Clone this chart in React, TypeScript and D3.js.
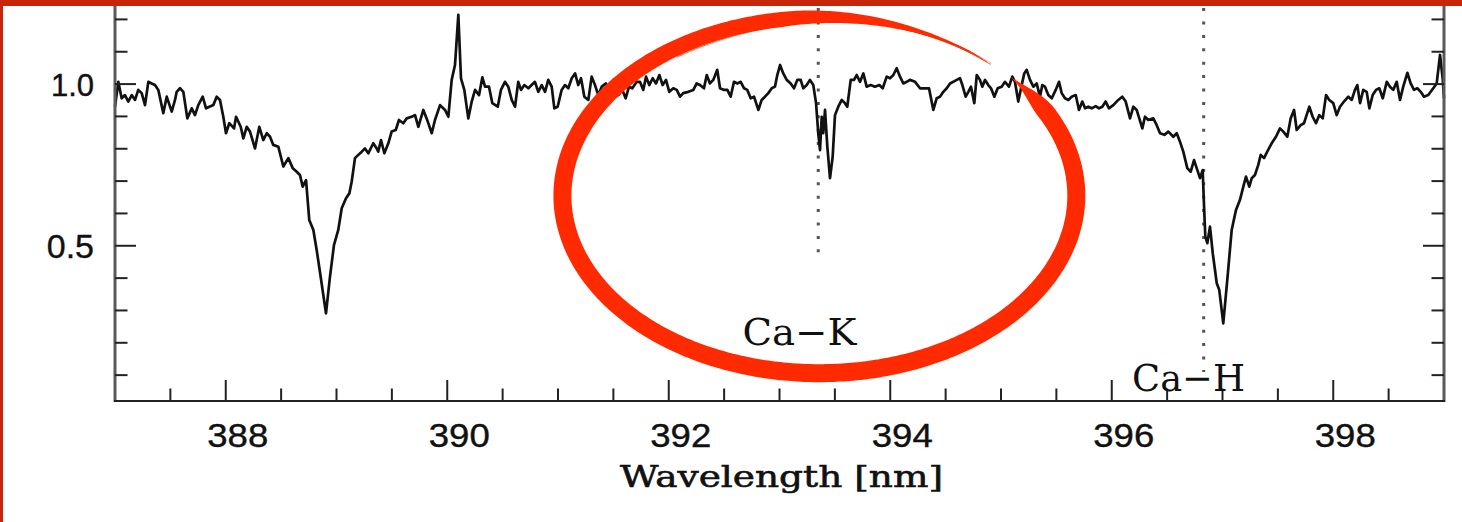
import React from "react";
import * as d3 from "d3";

// Normalised spectrum around the Ca II H & K lines
const wavelengthNm: number[] = [
  387.000, 387.030, 387.060, 387.090, 387.120, 387.151, 387.181, 387.210, 387.241, 387.271,
  387.301, 387.331, 387.361, 387.391, 387.436, 387.467, 387.512, 387.542, 387.557, 387.587,
  387.617, 387.653, 387.693, 387.722, 387.752, 387.792, 387.822, 387.852, 387.888, 387.918,
  387.948, 387.978, 388.002, 388.032, 388.075, 388.093, 388.135, 388.159, 388.189, 388.219,
  388.264, 388.303, 388.339, 388.370, 388.400, 388.429, 388.475, 388.520, 388.565, 388.605,
  388.641, 388.670, 388.695, 388.725, 388.754, 388.791, 388.821, 388.857, 388.905, 388.941,
  388.977, 389.016, 389.047, 389.086, 389.116, 389.137, 389.167, 389.197, 389.228, 389.257,
  389.287, 389.332, 389.363, 389.377, 389.402, 389.432, 389.468, 389.498, 389.535, 389.564,
  389.603, 389.634, 389.679, 389.709, 389.739, 389.784, 389.824, 389.860, 389.889, 389.935,
  389.980, 390.010, 390.040, 390.070, 390.100, 390.124, 390.154, 390.190, 390.221, 390.251,
  390.287, 390.317, 390.341, 390.377, 390.407, 390.456, 390.485, 390.521, 390.551, 390.582,
  390.612, 390.641, 390.666, 390.696, 390.732, 390.762, 390.792, 390.822, 390.853, 390.883,
  390.912, 390.943, 390.967, 390.997, 391.033, 391.063, 391.093, 391.124, 391.154, 391.183,
  391.208, 391.238, 391.274, 391.304, 391.334, 391.364, 391.395, 391.431, 391.470, 391.499,
  391.545, 391.581, 391.611, 391.641, 391.671, 391.711, 391.740, 391.770, 391.795, 391.824,
  391.855, 391.885, 391.915, 391.945, 391.975, 392.005, 392.041, 392.072, 392.102, 392.131,
  392.177, 392.222, 392.252, 392.282, 392.318, 392.343, 392.372, 392.402, 392.438, 392.463,
  392.499, 392.529, 392.559, 392.589, 392.619, 392.650, 392.680, 392.709, 392.740, 392.770,
  392.809, 392.839, 392.869, 392.899, 392.930, 392.959, 392.980, 393.005, 393.034, 393.065,
  393.101, 393.131, 393.161, 393.191, 393.215, 393.246, 393.275, 393.305, 393.330, 393.350,
  393.366, 393.381, 393.395, 393.411, 393.432, 393.456, 393.480, 393.501, 393.531, 393.562,
  393.591, 393.612, 393.643, 393.673, 393.697, 393.727, 393.757, 393.787, 393.823, 393.862,
  393.901, 393.932, 393.968, 393.998, 394.028, 394.058, 394.088, 394.118, 394.149, 394.178,
  394.224, 394.269, 394.314, 394.350, 394.389, 394.419, 394.449, 394.479, 394.510, 394.540,
  394.569, 394.600, 394.630, 394.651, 394.681, 394.705, 394.729, 394.759, 394.781, 394.810,
  394.831, 394.856, 394.885, 394.910, 394.940, 394.970, 395.006, 395.036, 395.072, 395.102,
  395.126, 395.156, 395.181, 395.210, 395.232, 395.262, 395.292, 395.322, 395.352, 395.373,
  395.397, 395.427, 395.458, 395.494, 395.524, 395.548, 395.578, 395.608, 395.638, 395.675,
  395.704, 395.734, 395.759, 395.788, 395.819, 395.855, 395.885, 395.915, 395.945, 395.975,
  396.014, 396.059, 396.095, 396.126, 396.165, 396.195, 396.225, 396.276, 396.300, 396.330,
  396.375, 396.406, 396.436, 396.475, 396.511, 396.556, 396.587, 396.616, 396.646, 396.682,
  396.713, 396.743, 396.767, 396.797, 396.821, 396.836, 396.845, 396.863, 396.887, 396.912,
  396.948, 396.971, 397.007, 397.043, 397.083, 397.122, 397.158, 397.188, 397.212, 397.242,
  397.264, 397.293, 397.323, 397.345, 397.375, 397.404, 397.444, 397.483, 397.519, 397.549,
  397.585, 397.616, 397.646, 397.670, 397.706, 397.736, 397.784, 397.814, 397.844, 397.874,
  397.905, 397.935, 397.964, 398.000, 398.031, 398.061, 398.097, 398.136, 398.167, 398.196,
  398.217, 398.242, 398.271, 398.302, 398.326, 398.356, 398.386, 398.416, 398.447, 398.483,
  398.512, 398.542, 398.573, 398.603, 398.632, 398.669, 398.699, 398.729, 398.759, 398.790,
  398.819, 398.858, 398.903, 398.934, 398.964, 398.988, 399.000,
];

const normFlux: number[] = [
  0.930, 1.007, 0.956, 0.966, 0.946, 0.966, 0.951, 0.982, 0.972, 0.935,
  1.007, 1.002, 0.997, 0.982, 0.910, 0.961, 0.915, 0.951, 0.976, 0.987,
  0.976, 0.894, 0.925, 0.904, 0.935, 0.961, 0.925, 0.930, 0.935, 0.961,
  0.951, 0.899, 0.848, 0.879, 0.863, 0.899, 0.868, 0.832, 0.868, 0.853,
  0.801, 0.868, 0.827, 0.848, 0.837, 0.812, 0.806, 0.745, 0.771, 0.740,
  0.729, 0.719, 0.683, 0.703, 0.580, 0.549, 0.487, 0.404, 0.291, 0.404,
  0.502, 0.549, 0.616, 0.647, 0.662, 0.698, 0.771, 0.781, 0.791, 0.801,
  0.786, 0.817, 0.801, 0.791, 0.827, 0.786, 0.817, 0.853, 0.858, 0.889,
  0.879, 0.894, 0.899, 0.904, 0.868, 0.920, 0.884, 0.848, 0.889, 0.935,
  0.920, 0.899, 1.013, 1.059, 1.214, 1.018, 0.982, 0.894, 0.946, 0.982,
  0.966, 1.021, 0.992, 0.992, 0.941, 0.930, 0.982, 1.007, 0.992, 0.951,
  0.930, 1.007, 0.982, 0.997, 0.987, 0.997, 1.007, 0.976, 0.997, 0.976,
  1.013, 0.992, 0.925, 0.930, 0.982, 0.997, 0.987, 1.018, 1.033, 0.997,
  1.018, 0.961, 0.951, 1.023, 0.997, 0.966, 0.992, 1.002, 0.982, 1.013,
  0.966, 0.982, 0.956, 0.992, 0.987, 1.007, 1.007, 0.982, 1.023, 0.997,
  1.018, 1.002, 1.028, 0.997, 1.013, 0.976, 0.987, 0.982, 0.961, 0.972,
  0.976, 0.982, 1.002, 0.997, 0.987, 1.028, 1.002, 1.013, 1.044, 0.987,
  0.982, 0.982, 0.961, 1.007, 1.002, 1.007, 0.987, 0.982, 0.956, 0.961,
  0.920, 0.951, 0.961, 0.972, 0.987, 0.992, 1.028, 1.059, 1.033, 1.013,
  1.002, 0.987, 1.013, 1.013, 0.987, 0.997, 1.013, 0.997, 0.941, 0.848,
  0.796, 0.899, 0.848, 0.920, 0.806, 0.709, 0.775, 0.904, 0.930, 0.951,
  0.941, 0.930, 1.013, 1.013, 1.028, 1.007, 1.033, 0.992, 0.997, 0.992,
  0.997, 0.987, 1.023, 1.018, 1.028, 1.049, 1.023, 1.002, 1.007, 1.013,
  1.007, 0.987, 0.987, 0.987, 0.920, 0.956, 0.961, 0.976, 0.987, 1.002,
  1.007, 1.013, 1.018, 0.997, 0.961, 0.976, 0.992, 0.941, 1.028, 1.013,
  0.992, 1.013, 0.997, 0.987, 0.961, 0.987, 0.992, 1.007, 0.992, 1.023,
  1.007, 0.946, 0.987, 1.033, 1.044, 1.013, 0.992, 1.002, 0.961, 0.997,
  0.992, 0.966, 0.956, 0.982, 1.007, 0.972, 0.956, 0.951, 0.961, 0.966,
  0.920, 0.946, 0.925, 0.930, 0.925, 0.932, 0.925, 0.930, 0.946, 0.925,
  0.935, 0.951, 0.961, 0.946, 0.894, 0.930, 0.920, 0.863, 0.899, 0.889,
  0.894, 0.873, 0.848, 0.843, 0.853, 0.837, 0.848, 0.822, 0.791, 0.740,
  0.729, 0.765, 0.740, 0.709, 0.734, 0.600, 0.528, 0.508, 0.559, 0.477,
  0.384, 0.363, 0.260, 0.394, 0.549, 0.611, 0.642, 0.683, 0.714, 0.683,
  0.709, 0.719, 0.750, 0.781, 0.771, 0.791, 0.817, 0.837, 0.863, 0.853,
  0.837, 0.894, 0.920, 0.858, 0.873, 0.879, 0.930, 0.899, 0.879, 0.904,
  0.894, 0.966, 0.951, 0.941, 0.904, 0.930, 0.946, 0.961, 0.951, 0.982,
  0.997, 0.941, 0.982, 0.976, 0.925, 0.966, 0.982, 0.987, 0.956, 1.007,
  0.992, 0.982, 1.007, 0.951, 0.992, 1.035, 1.002, 0.982, 0.987, 0.976,
  0.961, 0.966, 0.987, 1.002, 1.090, 1.018, 0.956,
];

// Axis ticks
const xMajorTicks = [388, 390, 392, 394, 396, 398];
const xMinorTicks = [387.5, 388.5, 389, 389.5, 390.5, 391, 391.5, 392.5, 393, 393.5, 394.5, 395, 395.5, 396.5, 397, 397.5, 398.5];
const yLabelTicks = [0.5, 1.0];
const yMinorTicks = [0.1, 0.2, 0.3, 0.4, 0.6, 0.7, 0.8, 0.9, 1.1, 1.2];

// Rest wavelengths of the Ca II lines (nm) and their labels
const caLineNm = [393.35, 396.83];
const caLineLabels = ["Ca\u2212K", "Ca\u2212H"];

const W = 1462;
const H = 522;
const RED = "#ff2a00";
const FRAME = "#c8260a";

const deg = Math.PI / 180;

function lerp(a: number, b: number, t: number) {
  return a + (b - a) * Math.max(0, Math.min(1, t));
}
function ease(t: number) {
  const c = Math.max(0, Math.min(1, t));
  return c * c * (3 - 2 * c);
}

export default function App() {
  const x = d3.scaleLinear().domain([387, 399]).range([115, 1444]);
  const y = d3.scaleLinear().domain([0.02, 1.26]).range([401, 0]);

  const pts: [number, number][] = wavelengthNm.map((w, i) => [w, normFlux[i]]);
  const spectrumPath = d3
    .line<[number, number]>()
    .x((d) => x(d[0]))
    .y((d) => y(d[1]))(pts) as string;

  const left = x.range()[0];
  const right = x.range()[1];
  const bottom = y.range()[0];

  // Hand-drawn circle around the Ca-K line
  const cx = x(393.36);
  const cy = y(0.655);
  const rx = x(393.36 + 2.32) - cx;
  const ry = cy - y(0.655 + 0.549);
  const a0 = -43 * deg;
  const a1 = 312 * deg;
  const n = 500;
  const outerPts: [number, number][] = [];
  const innerPts: [number, number][] = [];
  for (let i = 0; i <= n; i++) {
    const t = a0 + ((a1 - a0) * i) / n;
    const td = t / deg;
    let o: number;
    let q: number;
    if (td < -28) {
      const e = ease((td + 43) / 15);
      o = 9 * e;
      q = -9 * e;
    } else if (td < 200) {
      o = 9;
      q = -9;
    } else if (td < 262) {
      o = lerp(9, 8, (td - 200) / 62);
      q = lerp(-9, -7, (td - 200) / 62);
    } else {
      const s = (td - 262) / 50;
      o = lerp(8, 0.3, ease(s));
      q = lerp(-7, 0, Math.pow(Math.min(1, s * 1.15), 0.8));
    }
    outerPts.push([cx + (rx + o) * Math.cos(t), cy + (ry + o) * Math.sin(t)]);
    innerPts.push([cx + (rx + q) * Math.cos(t), cy + (ry + q) * Math.sin(t)]);
  }
  const brush = (d3.line()([...outerPts, ...innerPts.reverse()]) as string) + "Z";

  const hairs: string[] = [];
  for (let k = 0; k < 6; k++) {
    const s0 = 235 * deg;
    const s1 = (306 + k * 1.2) * deg;
    const off0 = -8.5 + k * 1.3;
    const hp: [number, number][] = [];
    for (let i = 0; i <= 80; i++) {
      const u = i / 80;
      const t = s0 + (s1 - s0) * u;
      const off = lerp(off0, 0.5 - k * 0.3, ease(u));
      hp.push([cx + (rx + off) * Math.cos(t), cy + (ry + off) * Math.sin(t)]);
    }
    hairs.push(d3.line()(hp) as string);
  }

  const tickFont = "'Liberation Sans', Arial, Helvetica, sans-serif";
  const serifFont = "'DejaVu Serif', 'Liberation Serif', serif";

  return (
    <svg
      width={W}
      height={H}
      viewBox={`0 0 ${W} ${H}`}
      style={{ position: "absolute", left: 0, top: 0, background: "#fff" }}
    >
      <rect x={0} y={0} width={W} height={H} fill="#fff" />

      {/* Ca II rest positions */}
      {caLineNm.map((w, i) => (
        <line
          key={`ca-${i}`}
          x1={x(w)}
          x2={x(w)}
          y1={y(1.235)}
          y2={i === 0 ? y(0.48) : y(0.11)}
          stroke="#555"
          strokeWidth={3}
          strokeDasharray="3 10.4"
        />
      ))}

      {/* spectrum */}
      <path d={spectrumPath} fill="none" stroke="#111" strokeWidth={2.7} strokeLinejoin="round" />

      {/* axes */}
      <line x1={left} x2={left} y1={-5} y2={bottom + 1} stroke="#5a5a5a" strokeWidth={3} />
      <line x1={right} x2={right} y1={-5} y2={bottom + 1} stroke="#5a5a5a" strokeWidth={3} />
      <line x1={left - 1} x2={right + 1} y1={bottom} y2={bottom} stroke="#222" strokeWidth={2.2} />

      {xMajorTicks.map((v) => (
        <line key={`xM${v}`} x1={x(v)} x2={x(v)} y1={bottom} y2={bottom - 21} stroke="#222" strokeWidth={2} />
      ))}
      {xMinorTicks.map((v) => (
        <line key={`xm${v}`} x1={x(v)} x2={x(v)} y1={bottom} y2={bottom - 12.5} stroke="#222" strokeWidth={2} />
      ))}
      {yLabelTicks.map((v) => (
        <g key={`yM${v}`}>
          <line x1={left} x2={left + 21} y1={y(v)} y2={y(v)} stroke="#222" strokeWidth={2} />
          <line x1={right} x2={right - 21} y1={y(v)} y2={y(v)} stroke="#222" strokeWidth={2} />
        </g>
      ))}
      {yMinorTicks.map((v) => (
        <g key={`ym${v}`}>
          <line x1={left} x2={left + 12.5} y1={y(v)} y2={y(v)} stroke="#222" strokeWidth={2} />
          <line x1={right} x2={right - 12.5} y1={y(v)} y2={y(v)} stroke="#222" strokeWidth={2} />
        </g>
      ))}

      {/* tick labels */}
      {xMajorTicks.map((v) => (
        <text
          key={`xl${v}`}
          x={x(v) + 12}
          y={447}
          textAnchor="middle"
          fontFamily={tickFont}
          fontSize={34}
          textLength={61}
          lengthAdjust="spacingAndGlyphs"
          fill="#111"
          stroke="#111"
          strokeWidth={0.4}
        >
          {v}
        </text>
      ))}
      {yLabelTicks.map((v) => (
        <text
          key={`yl${v}`}
          x={94}
          y={y(v) + 12}
          textAnchor="end"
          fontFamily={tickFont}
          fontSize={v === 1 ? 31 : 34}
          fill="#111"
          stroke="#111"
          strokeWidth={0.4}
        >
          {v.toFixed(1)}
        </text>
      ))}

      {/* axis title */}
      <text
        x={781.5}
        y={487}
        textAnchor="middle"
        fontFamily={serifFont}
        fontSize={30}
        textLength={323}
        lengthAdjust="spacingAndGlyphs"
        fill="#111"
        stroke="#111"
        strokeWidth={0.6}
      >
        Wavelength [nm]
      </text>

      {/* line labels */}
      <text
        x={x(393.18)}
        y={y(0.193)}
        textAnchor="middle"
        fontFamily={serifFont}
        fontSize={37}
        textLength={114}
        lengthAdjust="spacingAndGlyphs"
        fill="#111"
      >
        {caLineLabels[0]}
      </text>
      <text
        x={x(396.693)}
        y={y(0.051)}
        textAnchor="middle"
        fontFamily={serifFont}
        fontSize={38}
        textLength={113}
        lengthAdjust="spacingAndGlyphs"
        fill="#111"
      >
        {caLineLabels[1]}
      </text>

      {/* brush circle */}
      <path d={brush} fill={RED} />
      {hairs.map((d, i) => (
        <path key={`h${i}`} d={d} fill="none" stroke={RED} strokeWidth={0.9} opacity={0.85} />
      ))}

      {/* frame */}
      <rect x={0} y={0} width={W} height={6} fill={FRAME} />
      <rect x={0} y={0} width={3} height={H} fill={FRAME} />
    </svg>
  );
}
